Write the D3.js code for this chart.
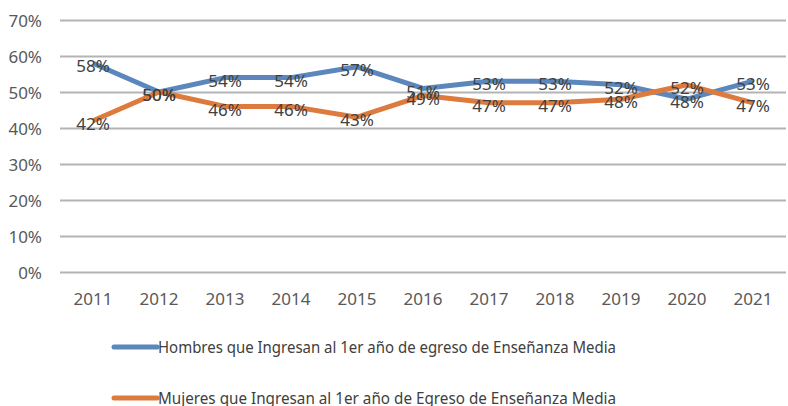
<!DOCTYPE html>
<html>
<head>
<meta charset="utf-8">
<script src="https://cdn.jsdelivr.net/npm/d3@7"></script>
<style>
  body { margin: 0; background: #fff; }
  text { font-family: "Noto Sans", "Open Sans", sans-serif; }
</style>
</head>
<body>
<div></div>
<script>
const width = 788;
const height = 406;

const years = ['2011', '2012', '2013', '2014', '2015', '2016', '2017', '2018', '2019', '2020', '2021'];
const hombres = [58, 50, 54, 54, 57, 51, 53, 53, 52, 48, 53];
const mujeres = [42, 50, 46, 46, 43, 49, 47, 47, 48, 52, 47];
const yTicks = [0, 10, 20, 30, 40, 50, 60, 70];
const seriesNames = [
  'Hombres que Ingresan al 1er año de egreso de Enseñanza Media',
  'Mujeres que Ingresan al 1er año de Egreso de Enseñanza Media'
];
const colors = ['#5b87bd', '#dd7b3e'];

const svg = d3.select('div').append('svg').attr('width', width).attr('height', height);

const x = d3.scaleBand().domain(years).range([60, 786]);
const y = d3.scaleLinear().domain([0, 70]).range([272, 20]);

// gridlines + y labels
const yAxis = svg.append('g')
  .attr('transform', 'translate(60,0)')
  .call(d3.axisLeft(y).tickValues(yTicks).tickSize(-726).tickFormat(d => d + '%'));
yAxis.select('.domain').remove();
yAxis.selectAll('.tick line').attr('stroke', '#b4b4b4').attr('stroke-width', 2);
yAxis.selectAll('.tick text').attr('x', -18).attr('dy', '0.36em')
  .attr('fill', '#595959').attr('font-size', 17);

// x labels
const xAxis = svg.append('g')
  .attr('transform', 'translate(0,272)')
  .call(d3.axisBottom(x).tickSize(0));
xAxis.select('.domain').remove();
xAxis.selectAll('.tick text').attr('y', 21).attr('dy', '0.71em')
  .attr('fill', '#595959').attr('font-size', 17);

const line = d3.line()
  .x((d, i) => x(years[i]) + x.bandwidth() / 2)
  .y(d => y(d));

const series = [hombres, mujeres];

series.forEach((vals, k) => {
  svg.append('path')
    .datum(vals)
    .attr('fill', 'none')
    .attr('stroke', colors[k])
    .attr('stroke-width', 5)
    .attr('stroke-linejoin', 'round')
    .attr('d', line);
});

series.forEach(vals => {
  svg.append('g').selectAll('text')
    .data(vals)
    .join('text')
    .attr('x', (d, i) => x(years[i]) + x.bandwidth() / 2)
    .attr('y', d => y(d) + 3)
    .attr('dy', '0.36em')
    .attr('text-anchor', 'middle')
    .attr('fill', '#404040')
    .attr('font-size', 17)
    .text(d => d + '%');
});

// legend
const legend = svg.append('g');
seriesNames.forEach((name, k) => {
  const ly = 347 + k * 51;
  legend.append('line')
    .attr('x1', 114).attr('x2', 157)
    .attr('y1', ly).attr('y2', ly)
    .attr('stroke', colors[k]).attr('stroke-width', 5)
    .attr('stroke-linecap', 'round');
  legend.append('text')
    .attr('x', 158).attr('y', ly)
    .attr('dy', '0.36em')
    .attr('fill', '#404040')
    .attr('font-size', 17)
    .attr('textLength', 458)
    .attr('lengthAdjust', 'spacingAndGlyphs')
    .text(name);
});
</script>
</body>
</html>
